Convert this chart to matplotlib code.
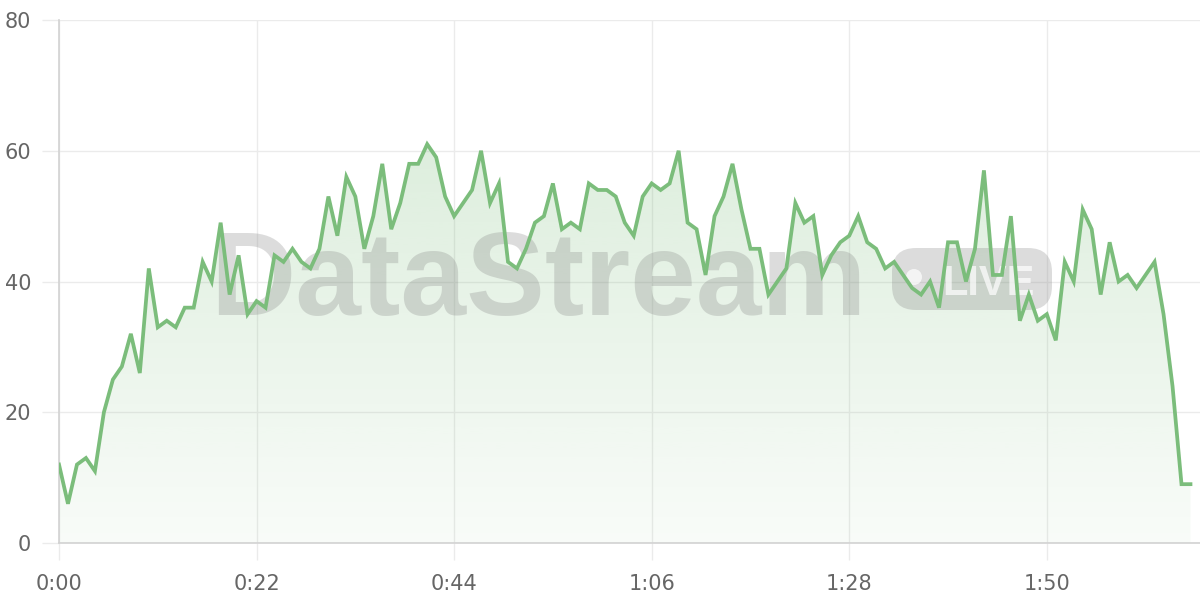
import numpy as np
import matplotlib
matplotlib.use('Agg')
import matplotlib.pyplot as plt
from matplotlib.colors import to_rgb
from matplotlib.patches import FancyBboxPatch, Circle
from matplotlib.transforms import IdentityTransform

# one reading per second
values = [12, 6, 12, 13, 11, 20, 25, 27, 32, 26,
          42, 33, 34, 33, 36, 36, 43, 40, 49, 38,
          44, 35, 37, 36, 44, 43, 45, 43, 42, 45,
          53, 47, 56, 53, 45, 50, 58, 48, 52, 58,
          58, 61, 59, 53, 50, 52, 54, 60, 52, 55,
          43, 42, 45, 49, 50, 55, 48, 49, 48, 55,
          54, 54, 53, 49, 47, 53, 55, 54, 55, 60,
          49, 48, 41, 50, 53, 58, 51, 45, 45, 38,
          40, 42, 52, 49, 50, 41, 44, 46, 47, 50,
          46, 45, 42, 43, 41, 39, 38, 40, 36, 46,
          46, 40, 45, 57, 41, 41, 50, 34, 38, 34,
          35, 31, 43, 40, 51, 48, 38, 46, 40, 41,
          39, 41, 43, 35, 24, 9, 9]
seconds = np.arange(len(values))

x_ticks = [0, 22, 44, 66, 88, 110]
x_tick_labels = ['0:00', '0:22', '0:44', '1:06', '1:28', '1:50']
y_ticks = [0, 20, 40, 60, 80]

GREEN = '#7bbd7b'
GRID = '#ebebeb'
AXIS = '#d2d2d2'
TEXT = '#666666'

plt.rcParams.update({'font.family': 'DejaVu Sans'})

fig = plt.figure(figsize=(12, 6), dpi=100)
ax = fig.add_axes([59 / 1200, 57 / 600, 1141 / 1200, 523 / 600])

# gradient fill under the line
poly = ax.fill_between(seconds, values, 0, color='none', lw=0)
clip = poly.get_paths()[0]
rgba = np.zeros((256, 1, 4))
rgba[..., :3] = to_rgb(GREEN)
rgba[..., 3] = np.linspace(0.05, 0.32, 256)[:, None]
im = ax.imshow(rgba, extent=[0, seconds[-1], 0, 80], origin='lower',
               aspect='auto', zorder=1, interpolation='bilinear')
im.set_clip_path(clip, transform=ax.transData)

ax.plot(seconds, values, color=GREEN, lw=2.7, zorder=4, solid_joinstyle='miter')

# watermark
WM_ALPHA = 0.27
ax.text(210 / 1200, 1 - 315 / 600, 'DataStream', transform=fig.transFigure,
        fontsize=85, fontweight='bold', family='Liberation Sans',
        color='#808080', alpha=WM_ALPHA, ha='left', va='baseline', zorder=2)
badge = FancyBboxPatch((892, 600 - 310), 160, 62,
                       boxstyle='round,pad=0,rounding_size=24',
                       transform=IdentityTransform(), facecolor='#808080',
                       alpha=WM_ALPHA, lw=0, zorder=2)
ax.add_artist(badge)
ax.add_artist(Circle((914, 600 - 277), 8, transform=IdentityTransform(),
                     facecolor='white', alpha=0.7, lw=0, zorder=2))
ax.text(942, 600 - 295, 'LIVE', transform=IdentityTransform(),
        fontsize=30, fontweight='bold', family='Liberation Sans',
        color='white', alpha=0.7, ha='left', va='baseline', zorder=2)

ax.set_xlim(0, 127.06)
ax.set_ylim(0, 80)
ax.set_xticks(x_ticks)
ax.set_xticklabels(x_tick_labels)
ax.set_yticks(y_ticks)

ax.grid(True, color=GRID, lw=1, zorder=0)
ax.set_axisbelow(True)
for side in ['top', 'right']:
    ax.spines[side].set_visible(False)
for side in ['left', 'bottom']:
    ax.spines[side].set_color(AXIS)
    ax.spines[side].set_linewidth(1.2)

ax.tick_params(axis='y', length=12, width=1, color=GRID, pad=8,
               labelsize=15, labelcolor=TEXT)
ax.tick_params(axis='x', length=12, width=1, color=GRID, pad=10,
               labelsize=15, labelcolor=TEXT)

fig.savefig('out.png', dpi=100)
